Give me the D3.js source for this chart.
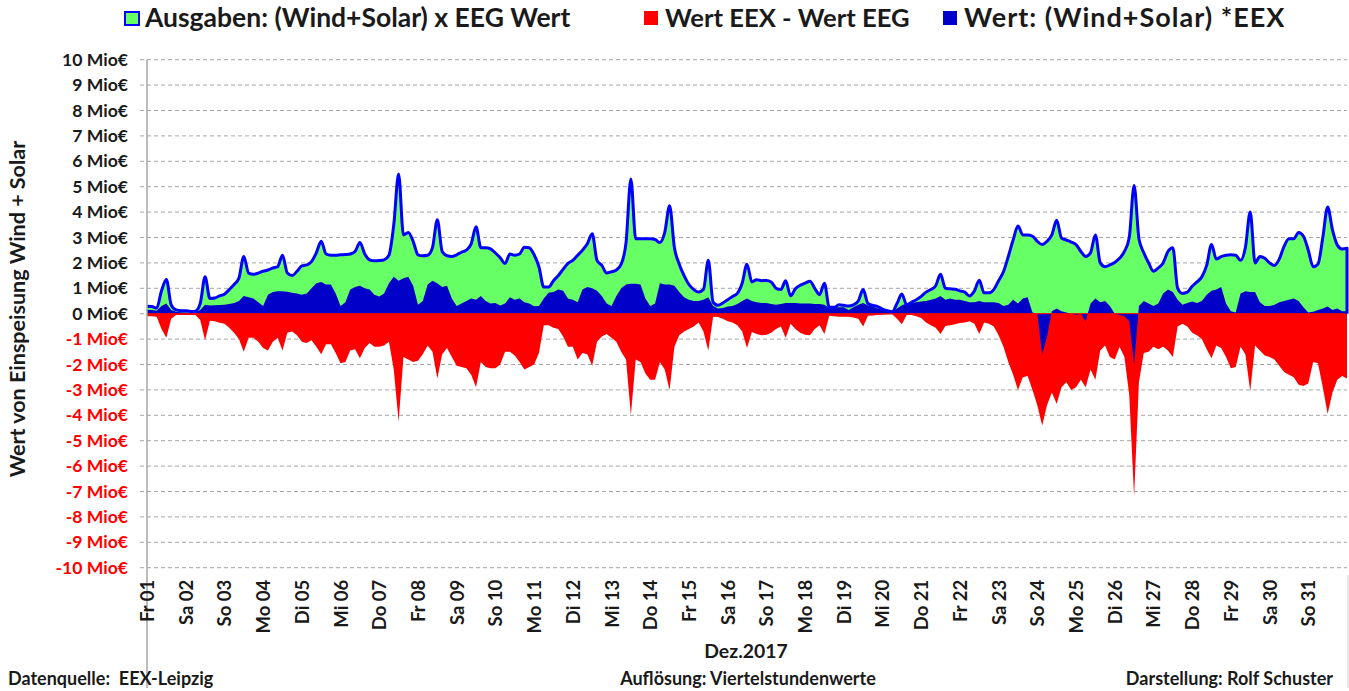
<!DOCTYPE html>
<html>
<head>
<meta charset="utf-8">
<script src="https://cdn.jsdelivr.net/npm/d3@7"></script>
<style>
  body { margin: 0; background: #fff; }
  svg text { font-family: Lato, "Open Sans", sans-serif; font-weight: bold; }
</style>
</head>
<body>
<div class="chart-wrapper"></div>
<script>
// Dez. 2017, values in Mio EUR, one value every 3 hours (00,03,...,21h) per day
var dayLabels = ["Fr 01","Sa 02","So 03","Mo 04","Di 05","Mi 06","Do 07","Fr 08","Sa 09","So 10",
  "Mo 11","Di 12","Mi 13","Do 14","Fr 15","Sa 16","So 17","Mo 18","Di 19","Mi 20",
  "Do 21","Fr 22","Sa 23","So 24","Mo 25","Di 26","Mi 27","Do 28","Fr 29","Sa 30","So 31"]

var yTicks = [10,9,8,7,6,5,4,3,2,1,0,-1,-2,-3,-4,-5,-6,-7,-8,-9,-10]

// Ausgaben: (Wind+Solar) x EEG Wert
var eegValue = [
  0.29,0.28,0.22,0.9,1.35,0.35,0.15,0.12,
  0.12,0.09,0.1,0.4,1.45,0.6,0.62,0.7,
  0.77,0.95,1.15,1.4,2.25,1.6,1.55,1.6,
  1.67,1.72,1.8,1.85,2.3,1.6,1.5,1.67,
  1.88,1.92,2.05,2.4,2.85,2.35,2.3,2.3,
  2.32,2.33,2.35,2.45,2.8,2.35,2.12,2.08,
  2.09,2.12,2.3,3.5,5.5,3.1,3.2,2.85,
  2.32,2.28,2.3,2.6,3.7,2.45,2.28,2.25,
  2.32,2.42,2.5,2.75,3.42,2.6,2.6,2.55,
  2.39,2.2,1.98,2.35,2.3,2.35,2.62,2.6,
  2.32,1.85,1.05,1.05,1.3,1.5,1.75,1.98,
  2.1,2.3,2.5,2.75,3.15,2.1,1.9,1.6,
  1.65,1.72,1.95,2.8,5.3,2.95,2.95,2.95,
  2.95,2.92,2.8,3.2,4.25,2.6,1.95,1.5,
  1.15,0.95,0.85,0.95,2.1,0.45,0.33,0.42,
  0.55,0.68,0.8,1.2,1.95,1.25,1.34,1.3,
  1.31,1.25,1.0,0.95,1.3,0.7,0.98,1.12,
  1.2,1.28,1.0,0.75,1.2,0.25,0.25,0.35,
  0.33,0.3,0.35,0.5,0.95,0.4,0.33,0.28,
  0.18,0.12,0.08,0.4,0.78,0.35,0.45,0.55,
  0.68,0.85,0.95,1.1,1.55,1.0,0.98,0.96,
  0.9,0.85,0.7,0.9,1.32,0.82,0.82,0.95,
  1.3,1.65,2.25,2.9,3.45,3.1,3.1,3.05,
  2.85,2.72,2.85,3.1,3.68,2.98,2.9,2.82,
  2.72,2.45,2.25,2.4,3.1,2.0,1.85,1.92,
  2.02,2.18,2.45,3.0,5.05,2.95,2.4,2.0,
  1.67,1.8,2.0,2.45,2.6,1.0,0.8,0.85,
  1.08,1.25,1.45,1.9,2.72,2.15,2.25,2.3,
  2.32,2.3,2.1,2.6,4.0,2.0,2.25,2.18,
  2.0,1.9,2.15,2.65,2.95,2.95,3.2,3.05,
  2.5,1.85,1.95,3.0,4.2,3.3,2.7,2.55,
  2.58]

// Wert: (Wind+Solar) * EEX
var eexValue = [
  0.16,0.15,0.12,0.3,0.4,0.15,0.08,0.06,
  0.05,0.04,0.05,0.15,0.35,0.32,0.33,0.34,
  0.35,0.38,0.42,0.5,0.7,0.65,0.6,0.45,
  0.3,0.75,0.85,0.88,0.88,0.86,0.82,0.8,
  0.75,0.8,1.0,1.2,1.25,1.15,1.15,0.8,
  0.3,0.45,0.95,1.05,1.1,1.0,0.95,0.75,
  0.68,0.8,1.2,1.45,1.3,1.4,1.45,1.1,
  0.35,0.5,1.15,1.3,1.2,1.05,1.1,0.6,
  0.3,0.4,0.5,0.6,0.55,0.7,0.5,0.4,
  0.42,0.32,0.4,0.65,0.55,0.6,0.45,0.4,
  0.29,0.3,0.6,0.82,0.85,0.95,0.9,0.6,
  0.55,0.45,0.95,1.05,1.0,0.9,0.7,0.4,
  0.3,0.7,1.0,1.15,1.18,1.18,1.15,0.6,
  0.3,0.4,1.2,1.15,1.15,1.1,0.85,0.65,
  0.55,0.5,0.5,0.55,0.65,0.3,0.2,0.22,
  0.28,0.3,0.38,0.5,0.6,0.5,0.45,0.42,
  0.42,0.38,0.35,0.38,0.42,0.42,0.42,0.4,
  0.4,0.4,0.38,0.38,0.35,0.22,0.25,0.25,
  0.25,0.15,0.25,0.35,0.42,0.32,0.28,0.2,
  0.15,0.1,0.08,0.2,0.33,0.4,0.42,0.45,
  0.48,0.5,0.55,0.6,0.7,0.55,0.6,0.55,
  0.55,0.5,0.45,0.45,0.5,0.45,0.45,0.45,
  0.42,0.3,0.35,0.55,0.4,0.6,0.65,0.05,
  0.0,-1.6,-0.9,0.1,0.2,0.1,0.05,0.0,
  -0.05,0.0,-0.3,0.4,0.6,0.45,0.5,0.3,
  0.0,-0.05,-0.1,-0.3,-2.0,0.3,0.5,0.4,
  0.3,0.4,0.8,0.95,0.85,0.55,0.35,0.42,
  0.48,0.42,0.5,0.75,0.9,0.95,1.05,0.4,
  0.1,0.05,0.8,0.88,0.85,0.85,0.45,0.3,
  0.3,0.35,0.45,0.5,0.55,0.6,0.5,0.25,
  0.05,0.08,0.15,0.2,0.28,0.15,0.2,0.1,
  0.1]

// Wert EEX - Wert EEG
var diffValue = [
  -0.1,-0.1,-0.12,-0.6,-0.95,-0.2,-0.05,-0.05,
  -0.05,-0.05,-0.05,-0.25,-1.05,-0.28,-0.3,-0.36,
  -0.4,-0.55,-0.75,-1.0,-1.5,-0.95,-0.95,-1.1,
  -1.35,-1.45,-1.1,-0.95,-1.45,-0.75,-0.7,-0.85,
  -1.1,-1.15,-1.05,-1.3,-1.6,-1.2,-1.2,-1.55,
  -1.95,-1.9,-1.45,-1.4,-1.75,-1.35,-1.15,-1.3,
  -1.3,-1.25,-1.1,-2.2,-4.25,-1.7,-1.8,-1.9,
  -1.85,-1.6,-1.25,-1.5,-2.55,-1.6,-1.35,-1.7,
  -2.05,-2.1,-2.15,-2.4,-2.9,-1.9,-2.1,-2.15,
  -2.15,-2.0,-1.5,-1.5,-1.65,-1.9,-2.2,-2.1,
  -2.0,-1.55,-0.45,-0.45,-0.55,-0.6,-0.9,-1.3,
  -1.3,-1.8,-1.55,-1.6,-2.05,-1.1,-0.9,-0.8,
  -0.95,-1.1,-1.5,-1.8,-4.0,-1.8,-1.9,-2.35,
  -2.6,-2.6,-1.9,-2.2,-3.0,-1.3,-0.85,-0.7,
  -0.6,-0.5,-0.35,-0.7,-1.45,-0.12,-0.13,-0.2,
  -0.3,-0.35,-0.45,-0.7,-1.35,-0.72,-0.8,-0.85,
  -0.83,-0.75,-0.6,-0.5,-0.95,-0.4,-0.6,-0.75,
  -0.83,-0.85,-0.6,-0.45,-0.8,-0.08,-0.1,-0.12,
  -0.12,-0.12,-0.15,-0.2,-0.5,-0.08,-0.07,-0.05,
  -0.04,-0.03,-0.02,-0.2,-0.42,-0.05,-0.05,-0.1,
  -0.17,-0.35,-0.45,-0.55,-0.8,-0.48,-0.45,-0.42,
  -0.37,-0.35,-0.3,-0.4,-0.8,-0.35,-0.4,-0.5,
  -0.85,-1.3,-1.9,-2.4,-3.0,-2.5,-2.45,-3.0,
  -3.6,-4.4,-3.6,-3.1,-3.55,-2.9,-2.7,-3.0,
  -2.9,-2.6,-2.9,-2.2,-2.6,-1.45,-1.25,-1.7,
  -1.8,-1.3,-1.7,-3.2,-7.2,-2.7,-1.55,-1.5,
  -1.3,-1.4,-1.3,-1.45,-1.7,-0.5,-0.4,-0.5,
  -0.75,-0.85,-1.0,-1.4,-1.75,-1.25,-1.35,-1.7,
  -2.15,-2.1,-1.3,-1.6,-3.05,-1.25,-1.45,-1.65,
  -1.7,-1.8,-2.05,-2.3,-2.4,-2.5,-2.8,-2.85,
  -2.75,-1.9,-1.95,-2.9,-3.95,-3.1,-2.6,-2.45,
  -2.55]

var legendItems = ["Ausgaben: (Wind+Solar) x EEG Wert", "Wert EEX - Wert EEG", "Wert: (Wind+Solar) *EEX"]

var width = 1349
var height = 691
var stepsPerDay = 8

var svg = d3.select('.chart-wrapper')
  .append('svg')
  .attr("width", width)
  .attr("height", height)

var x = d3.scaleLinear().domain([0, 31]).range([147, 1347])
var y = d3.scaleLinear().domain([-10, 10]).range([567.7, 59.7])

var rows = eegValue.map((v, i) => ({ t: i / stepsPerDay, eeg: v, eex: eexValue[i], diff: diffValue[i] }))

// grid lines
svg.append('g')
  .selectAll('line')
  .data(yTicks)
  .enter().append('line')
  .attr("x1", 140)
  .attr("x2", x(31))
  .attr("y1", d => y(d))
  .attr("y2", d => y(d))
  .attr("stroke", "#a6a6a6")
  .attr("stroke-width", 1)
  .attr("stroke-dasharray", "4,3")

// areas
var eegArea = d3.area().x(d => x(d.t)).y0(y(0)).y1(d => y(d.eeg)).curve(d3.curveMonotoneX)
var diffArea = d3.area().x(d => x(d.t)).y0(y(0)).y1(d => y(d.diff))
var eexArea = d3.area().x(d => x(d.t)).y0(y(0)).y1(d => y(d.eex))

svg.append('path').datum(rows).attr("d", eegArea).attr("fill", "#66ff66")
svg.append('path').datum(rows).attr("d", diffArea).attr("fill", "#ff0000")
svg.append('path').datum(rows).attr("d", eexArea).attr("fill", "#0000c8")

svg.append('line')
  .attr("x1", x(0)).attr("x2", x(31))
  .attr("y1", y(0)).attr("y2", y(0))
  .attr("stroke", "#ff0000").attr("stroke-width", 1)

// outline of the EEG area
var eegLine = d3.line().x(d => x(d.t)).y(d => y(d.eeg)).curve(d3.curveMonotoneX)
var last = rows[rows.length - 1]
svg.append('path')
  .datum(rows)
  .attr("d", eegLine(rows) + "L" + x(last.t) + "," + y(0))
  .attr("fill", "none")
  .attr("stroke", "#0000ff")
  .attr("stroke-width", 3)
  .attr("stroke-linejoin", "round")

// y axis
var yAxis = svg.append('g')
  .attr("transform", "translate(147,0)")
  .call(d3.axisLeft(y).tickValues(yTicks).tickSize(0).tickPadding(19).tickFormat(d => d + " Mio€"))
yAxis.select('.domain').remove()
yAxis.selectAll('text')
  .attr("font-size", 17.6)
  .attr("fill", d => d < 0 ? "#ff0000" : "#1a1a1a")

svg.append('line')
  .attr("x1", 147).attr("x2", 147)
  .attr("y1", y(10)).attr("y2", 688)
  .attr("stroke", "#a6a6a6").attr("stroke-width", 1.5)
svg.append('line')
  .attr("x1", 1348).attr("x2", 1348)
  .attr("y1", 575).attr("y2", 688)
  .attr("stroke", "#d0d0d0").attr("stroke-width", 1)

// x axis
var xAxis = svg.append('g')
  .attr("transform", `translate(0,${y(-10)})`)
  .call(d3.axisBottom(x).tickValues(d3.range(31)).tickSize(0).tickFormat(d => dayLabels[d]))
xAxis.select('.domain').remove()
xAxis.selectAll('text')
  .attr("font-size", 18.5)
  .attr("fill", "#1a1a1a")
  .attr("transform", "rotate(-90)")
  .attr("x", -12)
  .attr("y", 0)
  .attr("dy", "0.35em")
  .style("text-anchor", "end")

// titles
svg.append('text')
  .text("Wert von Einspeisung Wind + Solar")
  .attr("transform", "translate(25,309) rotate(-90)")
  .attr("text-anchor", "middle")
  .attr("font-size", 21.5)
  .attr("fill", "#1a1a1a")

svg.append('text')
  .text("Dez.2017")
  .attr("x", 746).attr("y", 658)
  .attr("text-anchor", "middle")
  .attr("font-size", 19.4)
  .attr("fill", "#1a1a1a")

var footer = svg.append('g').attr("font-size", 18).attr("fill", "#1a1a1a")
footer.append('text').text("Datenquelle:  EEX-Leipzig").attr("x", 8).attr("y", 685).style("white-space", "pre")
footer.append('text').text("Auflösung: Viertelstundenwerte").attr("x", 748).attr("y", 685).attr("text-anchor", "middle")
footer.append('text').text("Darstellung: Rolf Schuster").attr("x", 1333).attr("y", 685).attr("text-anchor", "end")

// legend
var legendX = [124, 644, 943]
var legendFill = ["#66ff66", "#ff0000", "#0000c8"]
var legendSize = [26.5, 25.6, 27]
var legendSpacing = [0, 0, 1]
var legend = svg.append('g')
legendItems.forEach((name, i) => {
  legend.append('rect')
    .attr("x", legendX[i] + (i == 0 ? 1 : 0)).attr("y", 11 + (i == 0 ? 1 : 0))
    .attr("width", 14).attr("height", i == 0 ? 13 : 14)
    .attr("fill", legendFill[i])
    .attr("stroke", i == 0 ? "#0000ff" : "none")
    .attr("stroke-width", 2)
  legend.append('text')
    .text(name)
    .attr("x", legendX[i] + 21).attr("y", 27)
    .attr("font-size", legendSize[i])
    .style("letter-spacing", legendSpacing[i] + "px")
    .attr("fill", "#1a1a1a")
})
</script>
</body>
</html>
